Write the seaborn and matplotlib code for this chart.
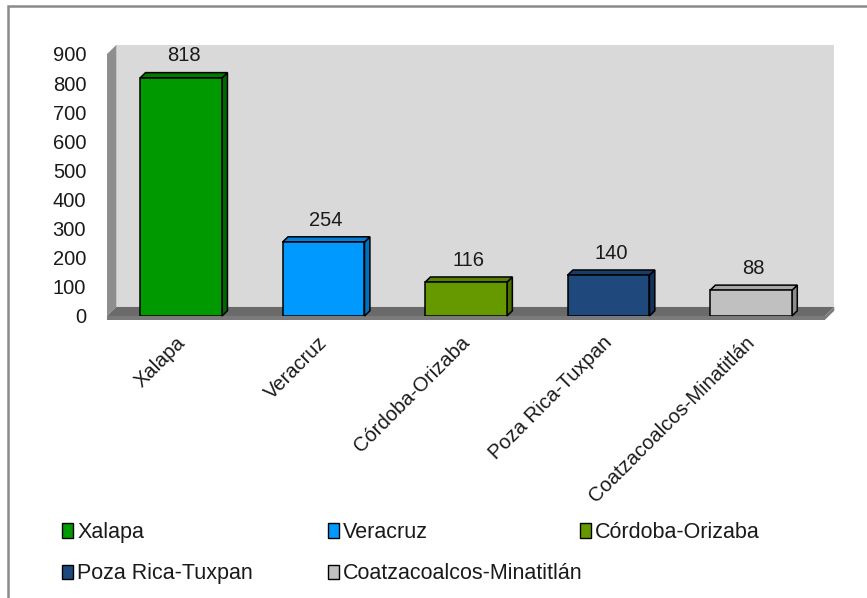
import matplotlib
matplotlib.use("Agg")
import matplotlib.pyplot as plt
import pandas as pd
import seaborn as sns
from matplotlib.patches import Polygon, Rectangle, Patch
from matplotlib.transforms import ScaledTranslation

# --- data ---
regions = ["Xalapa", "Veracruz", "Córdoba-Orizaba", "Poza Rica-Tuxpan", "Coatzacoalcos-Minatitlán"]
values = [818, 254, 116, 140, 88]
colors = ["#009900", "#0099ff", "#669900", "#1f497d", "#c0c0c0"]
side_colors = ["#006a00", "#0070c0", "#4a7000", "#14325a", "#8c8c8c"]
top_colors = ["#007a00", "#0080d8", "#578200", "#193c68", "#a6a6a6"]
yticks = [0, 100, 200, 300, 400, 500, 600, 700, 800, 900]

sns.set_theme(style="white")
plt.rcParams["font.family"] = ["Liberation Sans", "DejaVu Sans"]
txt = "#1a1a1a"

df = pd.DataFrame({"region": regions, "value": values})

fig = plt.figure(figsize=(8.67, 5.98), dpi=100)
ax = fig.add_axes([107 / 867, 0.4716, 718 / 867, 0.4381])
ax.set_facecolor("none")

sns.barplot(data=df, x="region", y="value", hue="region", palette=colors,
            saturation=1, width=0.575, edgecolor="black", linewidth=1.1,
            legend=False, ax=ax, zorder=4)

x0, x1 = -0.52, 4.52
ax.set_xlim(x0, x1)
ax.set_ylim(0, 900)
dx, dy = 0.065, 31     # depth of the walls (data units)
bdx, bdy = 0.038, 18   # depth of the bars
slab = 13

# walls and floor
ax.add_patch(Rectangle((x0 + dx, dy), x1 - x0, 900, facecolor="#d9d9d9",
                       edgecolor="none", zorder=0, clip_on=False))
ax.add_patch(Polygon([(x0, 0), (x0 + dx, dy), (x0 + dx, 900 + dy), (x0, 900)],
                     closed=True, facecolor="#8e8e8e", edgecolor="none",
                     zorder=1, clip_on=False))
ax.add_patch(Polygon([(x0, 0), (x1, 0), (x1 + dx, dy), (x0 + dx, dy)],
                     closed=True, facecolor="#6a6a6a", edgecolor="none",
                     zorder=1, clip_on=False))
ax.add_patch(Rectangle((x0, -slab), x1 - x0, slab, facecolor="#7a7a7a",
                       edgecolor="none", zorder=1, clip_on=False))
ax.add_patch(Polygon([(x1, -slab), (x1 + dx, dy - slab), (x1 + dx, dy), (x1, 0)],
                     closed=True, facecolor="#7a7a7a", edgecolor="none",
                     zorder=1, clip_on=False))

# 3d faces of the bars + value labels
for cont, v, sc, tc in zip(ax.containers, values, side_colors, top_colors):
    bar = cont[0]
    bx, w, h = bar.get_x(), bar.get_width(), bar.get_height()
    ax.add_patch(Polygon([(bx + w, 0), (bx + w + bdx, bdy), (bx + w + bdx, h + bdy), (bx + w, h)],
                         closed=True, facecolor=sc, edgecolor="black",
                         linewidth=1.1, zorder=3, clip_on=False))
    ax.add_patch(Polygon([(bx, h), (bx + bdx, h + bdy), (bx + w + bdx, h + bdy), (bx + w, h)],
                         closed=True, facecolor=tc, edgecolor="black",
                         linewidth=1.1, zorder=3, clip_on=False))
    ax.annotate(f"{v}", (bx + w / 2 + bdx / 2, h + bdy), xytext=(0, 12),
                textcoords="offset points", ha="center", va="center",
                fontsize=14.5, color=txt, annotation_clip=False)

# axes cosmetics
sns.despine(ax=ax, left=True, bottom=True)
ax.set_xlabel("")
ax.set_ylabel("")
ax.set_yticks(yticks)
ax.set_yticklabels([str(t) for t in yticks])
ax.tick_params(axis="y", length=0, pad=15, labelsize=14.5, labelcolor=txt)
ax.tick_params(axis="x", length=0, pad=12, labelsize=14.5, labelcolor=txt)
ax.grid(False)
for lab in ax.get_xticklabels():
    lab.set_rotation(45)
    lab.set_ha("right")
    lab.set_va("top")
    lab.set_rotation_mode("anchor")
    lab.set_transform(lab.get_transform() + ScaledTranslation(-0.06, 0, fig.dpi_scale_trans))

# legend, laid out in three columns like the original
handles = [Patch(facecolor=c, edgecolor="black", linewidth=1, label=r)
           for r, c in zip(regions, colors)]
col_groups = [[0, 3], [1, 4], [2]]
col_x = [62 / 867, 328 / 867, 580 / 867]
for grp, lx in zip(col_groups, col_x):
    leg = fig.legend(handles=[handles[i] for i in grp], loc="upper left",
                     bbox_to_anchor=(lx, 1 - 522 / 598), frameon=False,
                     fontsize=15.5, borderpad=0, borderaxespad=0,
                     handlelength=0.5, handleheight=0.65, handletextpad=0.2,
                     labelspacing=0.95)
    for t in leg.get_texts():
        t.set_color(txt)

# outer frame (cut off right/bottom in the original)
fig.patches.append(Rectangle((8 / 867, -0.2), 1.5, 1.2 - 6 / 598,
                             transform=fig.transFigure, fill=False,
                             edgecolor="#8a8a8a", linewidth=1.8))

fig.savefig("out.png", dpi=100)
